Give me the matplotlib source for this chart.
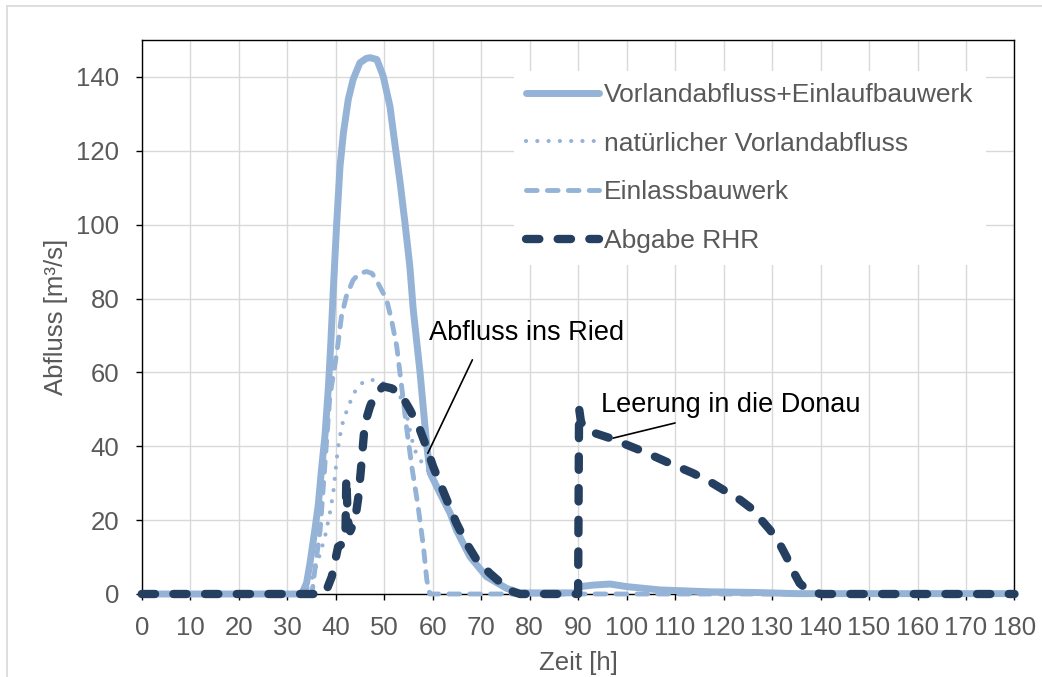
import matplotlib
matplotlib.use('Agg')
import matplotlib.pyplot as plt
from matplotlib.lines import Line2D

plt.rcParams['font.family'] = ['Liberation Sans', 'DejaVu Sans']

HELL = '#95b3d7'
DUNKEL = '#243f60'
GRAU = '#595959'

# Vorlandabfluss + Einlaufbauwerk
zeit_gesamt = [0, 33.0, 34.0, 34.7, 35.7, 36.4, 37.1, 37.8, 38.5, 39.0, 39.5, 40.2, 40.9, 41.6, 42.6,
               43.6, 45.0, 46.3, 47.1, 48.5, 49.8, 51.2, 52.2, 53.3, 54.3, 55.3, 56.0, 57.4, 58.8,
               59.5, 61.5, 63.6, 64.9, 67.7, 71.1, 75.3, 78.0, 89.7, 90.4, 93.0, 96.6, 100.0, 106.9,
               117.0, 127.0, 135.0, 180]
q_gesamt = [0, 0, 3.0, 8.3, 17.3, 24.0, 34.0, 43.0, 56.0, 68.0, 82.0, 100.0, 115.8, 124.8, 133.9,
            139.3, 143.8, 145.0, 145.2, 144.7, 140.2, 132.0, 122.0, 111.3, 100.4, 88.7, 77.0, 60.0, 40.0,
            32.7, 27.3, 21.9, 17.3, 10.1, 4.7, 1.5, 0.3, 0.3, 2.0, 2.4, 2.7, 2.0, 1.1,
            0.6, 0.4, 0.1, 0.1]

# natuerlicher Vorlandabfluss
zeit_natur = [0, 33.5, 34.0, 35.0, 36.4, 37.8, 38.8, 39.5, 40.2, 40.7, 41.6, 42.9, 44.3, 45.8, 47.4,
              49.5, 51.2, 53.3, 54.6, 55.5, 56.3, 57.4, 58.8, 61.5, 63.6, 64.9, 67.7, 71.1, 75.3, 78.0,
              89.7, 90.4, 93.0, 96.6, 100.0, 106.9, 117.0, 127.0, 135.0, 180]
q_natur = [0, 0, 1.0, 3.8, 9.2, 15.5, 21.9, 27.3, 36.3, 41.7, 47.2, 51.7, 55.7, 57.5, 58.0,
           57.3, 56.2, 53.5, 49.0, 43.0, 39.0, 36.3, 34.0, 27.3, 21.9, 17.3, 10.1, 4.7, 1.5, 0.3,
           0.3, 2.0, 2.4, 2.7, 2.0, 1.1, 0.6, 0.4, 0.1, 0.1]

# Einlassbauwerk
zeit_einlass = [0, 35.1, 35.7, 36.8, 37.8, 38.8, 39.6, 40.3, 40.9, 41.2, 42.2, 43.6, 44.9, 46.4,
                47.5, 48.4, 50.5, 51.5, 52.6, 53.6, 54.6, 55.7, 57.0, 58.1, 58.8, 59.4, 180]
q_einlass = [0, 0, 6.5, 17.3, 35.4, 53.5, 60.0, 66.0, 72.0, 75.2, 80.6, 85.0, 86.8, 87.3,
             86.8, 85.0, 79.7, 74.3, 67.0, 56.2, 45.3, 34.5, 23.7, 12.8, 3.8, 0, 0]

# Abgabe RHR
zeit_rhr = [0, 37.5, 38.1, 39.2, 39.9, 40.5, 41.6, 42.0, 42.2, 42.5, 43.0, 44.0, 44.7, 45.2, 46.0,
            47.1, 48.1, 49.8, 51.5, 53.3, 55.3, 57.4, 58.8, 60.1, 61.5, 63.2, 64.9, 67.0, 69.1, 71.8,
            74.6, 76.6, 78.0, 90.0, 90.2, 90.6, 92.4, 96.6, 100.0, 103.4, 108.9, 113.7, 117.2, 120.6,
            123.4, 126.1, 127.5, 129.6, 131.6, 133.0, 134.2, 135.7, 137.2, 138.5, 140.0, 180]
q_rhr = [0, 0, 1.0, 4.7, 9.0, 12.8, 13.7, 15.0, 31.5, 20.0, 17.0, 20.0, 26.4, 33.6, 46.0,
         50.8, 53.9, 56.2, 55.7, 54.4, 49.9, 44.4, 39.5, 34.5, 30.0, 24.6, 19.2, 13.7, 9.2, 5.6,
         2.4, 0.6, 0, 0, 50.3, 46.5, 44.0, 42.2, 40.4, 38.6, 35.4, 32.7, 30.4, 27.7,
         25.5, 22.8, 20.5, 17.3, 13.5, 10.0, 6.5, 2.9, 1.2, 0.6, 0, 0]

x_ticks = list(range(0, 181, 10))
y_ticks = list(range(0, 141, 20))

fig = plt.figure(figsize=(10.42, 6.77), dpi=100)
ax = fig.add_axes([0.136, 0.1226, 0.8376, 0.8184])

ax.plot(zeit_gesamt, q_gesamt, color=HELL, lw=5, solid_capstyle='round', solid_joinstyle='round',
        label='Vorlandabfluss+Einlaufbauwerk', zorder=3, clip_on=False)
ax.plot(zeit_natur, q_natur, color=HELL, lw=3, linestyle=(0, (0.01, 2.7)),
        dash_capstyle='round', label='natürlicher Vorlandabfluss', zorder=3, clip_on=False)
ax.plot(zeit_einlass, q_einlass, color=HELL, lw=3.5, linestyle=(0, (2.2, 2.1)),
        dash_capstyle='round', label='Einlassbauwerk', zorder=3, clip_on=False)
ax.plot(zeit_rhr, q_rhr, color=DUNKEL, lw=6, linestyle=(0, (1.6, 2.2)),
        dash_capstyle='round', label='Abgabe RHR', zorder=4, clip_on=False)

ax.set_xlim(0, 180)
ax.set_ylim(0, 150)
ax.set_xticks(x_ticks)
ax.set_yticks(y_ticks)
ax.grid(True, color='#d9d9d9', lw=1.0)
ax.set_axisbelow(True)
for s in ax.spines.values():
    s.set_color('black')
    s.set_linewidth(1.0)
ax.tick_params(direction='out', length=4.5, width=1.0, color='black',
               labelsize=18.5, labelcolor=GRAU)
ax.tick_params(axis='x', pad=11)
ax.tick_params(axis='y', pad=11.5)

ax.set_xlabel('Zeit [h]', fontsize=18.5, color=GRAU)
ax.set_ylabel('Abfluss [m³/s]', fontsize=18.5, color=GRAU)
ax.xaxis.set_label_coords(0.5, -0.103)
ax.yaxis.set_label_coords(-0.085, 0.5)

leg = ax.legend(loc='upper left', bbox_to_anchor=(0.4266, 0.944), fontsize=19,
                frameon=True, fancybox=False, edgecolor='none', facecolor='white', framealpha=1,
                borderaxespad=0, borderpad=0.45, handlelength=2.77, handletextpad=0.2,
                labelspacing=0.94)
for t in leg.get_texts():
    t.set_color(GRAU)

# Beschriftungen mit Hinweislinien
ax.text(59.2, 68.8, 'Abfluss ins Ried', fontsize=19.5, color='black', va='baseline')
ax.annotate('', xy=(59.0, 38.1), xytext=(68.2, 63.4),
            arrowprops=dict(arrowstyle='-', color='black', lw=1.2, shrinkA=0, shrinkB=0))
ax.text(94.8, 49.4, 'Leerung in die Donau', fontsize=19.5, color='black', va='baseline')
ax.annotate('', xy=(97.2, 42.2), xytext=(110.0, 46.3),
            arrowprops=dict(arrowstyle='-', color='black', lw=1.2, shrinkA=0, shrinkB=0))

# heller Rahmen um das Diagramm
fig.add_artist(Line2D([0.0067, 0.0067], [0, 1 - 6 / 677], transform=fig.transFigure,
                      color='#d9d9d9', lw=1.2))
fig.add_artist(Line2D([0.0067, 1], [1 - 6 / 677, 1 - 6 / 677], transform=fig.transFigure,
                      color='#d9d9d9', lw=1.2))

fig.savefig('out.png', dpi=100)
